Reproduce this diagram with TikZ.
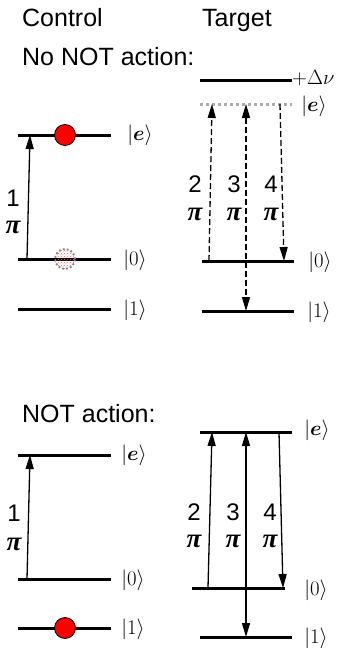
\documentclass[tikz,border=0pt]{standalone}
\usepackage[no-math]{fontspec}
\setmainfont{Liberation Sans}
\newfontfamily\timesf{Liberation Serif}
\usepackage{bm}
\usetikzlibrary{arrows.meta,patterns}
\begin{document}
\begin{tikzpicture}[x=1pt,y=-1pt,
  level/.style={line width=3pt},
  arr/.style={line width=1.3pt,-{Triangle[length=14pt,width=8pt]}},
  darr/.style={arr,dash pattern=on 6pt off 3pt},
  barr/.style={line width=1.3pt,{Triangle[length=14pt,width=8pt]}-{Triangle[length=14pt,width=8pt]}},
  dbarr/.style={barr,dash pattern=on 6pt off 3pt},
  head/.style={font=\fontsize{25}{30}\selectfont,anchor=base west,inner sep=0pt},
  num/.style={font=\fontsize{24}{28}\selectfont,inner sep=0pt},
  pilab/.style={font=\fontsize{27}{30}\timesf\bfseries\itshape,inner sep=0pt},
  ket/.style={font=\fontsize{22}{26}\selectfont,inner sep=0pt},
  atom/.style={circle,fill=red,draw=black,line width=0.8pt,minimum size=21pt,inner sep=0pt},
  ghost/.style={circle,minimum size=20pt,inner sep=0pt,pattern=crosshatch dots,pattern color=red!60,draw=gray,line width=1.8pt,dash pattern=on 1.8pt off 2.2pt}
]
\useasboundingbox (0,0) rectangle (345,654);

% headings
\node[head] (ctl) at (22,26) {Control};
\node[head] (tgt) at (202,26) {Target};
\node[head] (nonot) at (22,65) {No NOT action:};
\node[head] (notact) at (22,422) {NOT action:};

% ---------- top: control ----------
\coordinate (tce) at (18,135);  \coordinate (tceR) at (111,135);
\coordinate (tc0) at (18,259);  \coordinate (tc0R) at (111,259);
\coordinate (tc1) at (18,309);  \coordinate (tc1R) at (111,309);
\draw[level] (tce) -- (tceR);
\draw[level] (tc0) -- (tc0R);
\draw[level] (tc1) -- (tc1R);
\node[atom] (tatom) at (65,135) {};
\node[ghost] (tghost) at (65,259) {};
\node[ket] (ktce) at (140,135) {$|\bm{e}\rangle$};
\node[ket] (ktc0) at (135,260) {$|0\rangle$};
\node[ket] (ktc1) at (135,310) {$|1\rangle$};
\coordinate (ta1s) at (27,259); \coordinate (ta1e) at (30,135);
\draw[arr] (ta1s) -- (ta1e);
\node[num] (tn1) at (13,198) {1};
\node[pilab] (tp1) at (13,227) {π};

% ---------- top: target ----------
\coordinate (tdv) at (200,80);  \coordinate (tdvR) at (292,80);
\coordinate (tte) at (200,104); \coordinate (tteR) at (292,104);
\coordinate (tt0) at (202,261); \coordinate (tt0R) at (294,261);
\coordinate (tt1) at (202,311); \coordinate (tt1R) at (294,311);
\draw[level] (tdv) -- (tdvR);
\draw[line width=3pt,gray!65,dash pattern=on 3.3pt off 2.7pt] (tte) -- (tteR);
\draw[level] (tt0) -- (tt0R);
\draw[level] (tt1) -- (tt1R);
\node[font=\fontsize{22}{26}\selectfont,anchor=west,inner sep=0pt] (kdv) at (292,78) {$+\Delta\nu$};
\node[ket] (ktte) at (314,106) {$|\bm{e}\rangle$};
\node[ket] (ktt0) at (320,262) {$|0\rangle$};
\node[ket] (ktt1) at (319,312) {$|1\rangle$};
\coordinate (t2s) at (209,261); \coordinate (t2e) at (212,104);
\coordinate (t3s) at (246,104); \coordinate (t3e) at (246,311);
\coordinate (t4s) at (280,104); \coordinate (t4e) at (284,261);
\draw[darr] (t2s) -- (t2e);
\draw[dbarr] (t3s) -- (t3e);
\draw[darr] (t4s) -- (t4e);
\node[num] (tn2) at (195,184) {2};
\node[num] (tn3) at (234,184) {3};
\node[num] (tn4) at (271,184) {4};
\node[pilab] (tp2) at (195,214) {π};
\node[pilab] (tp3) at (234,214) {π};
\node[pilab] (tp4) at (271,214) {π};

% ---------- bottom: control ----------
\coordinate (bce) at (18,455);  \coordinate (bceR) at (111,455);
\coordinate (bc0) at (18,579);  \coordinate (bc0R) at (111,579);
\coordinate (bc1) at (18,628);  \coordinate (bc1R) at (111,628);
\draw[level] (bce) -- (bceR);
\draw[level] (bc0) -- (bc0R);
\draw[level] (bc1) -- (bc1R);
\node[atom] (batom) at (65,628) {};
\node[ket] (kbce) at (134,455) {$|\bm{e}\rangle$};
\node[ket] (kbc0) at (133,580) {$|0\rangle$};
\node[ket] (kbc1) at (133,629) {$|1\rangle$};
\coordinate (ba1s) at (27,579); \coordinate (ba1e) at (30,455);
\draw[arr] (ba1s) -- (ba1e);
\node[num] (bn1) at (14,513) {1};
\node[pilab] (bp1) at (14,544) {π};

% ---------- bottom: target ----------
\coordinate (bte) at (200,432); \coordinate (bteR) at (292,432);
\coordinate (bt0) at (192,588); \coordinate (bt0R) at (285,588);
\coordinate (bt1) at (200,637); \coordinate (bt1R) at (292,637);
\draw[level] (bte) -- (bteR);
\draw[level] (bt0) -- (bt0R);
\draw[level] (bt1) -- (bt1R);
\node[ket] (kbte) at (317,430) {$|\bm{e}\rangle$};
\node[ket] (kbt0) at (316,590) {$|0\rangle$};
\node[ket] (kbt1) at (316,638) {$|1\rangle$};
\coordinate (b2s) at (208,588); \coordinate (b2e) at (212,432);
\coordinate (b3s) at (246,432); \coordinate (b3e) at (246,637);
\coordinate (b4s) at (279,432); \coordinate (b4e) at (283,588);
\draw[arr] (b2s) -- (b2e);
\draw[barr] (b3s) -- (b3e);
\draw[arr] (b4s) -- (b4e);
\node[num] (bn2) at (194,512) {2};
\node[num] (bn3) at (233,512) {3};
\node[num] (bn4) at (270,512) {4};
\node[pilab] (bp2) at (194,541) {π};
\node[pilab] (bp3) at (233,541) {π};
\node[pilab] (bp4) at (270,541) {π};
\end{tikzpicture}
\end{document}
